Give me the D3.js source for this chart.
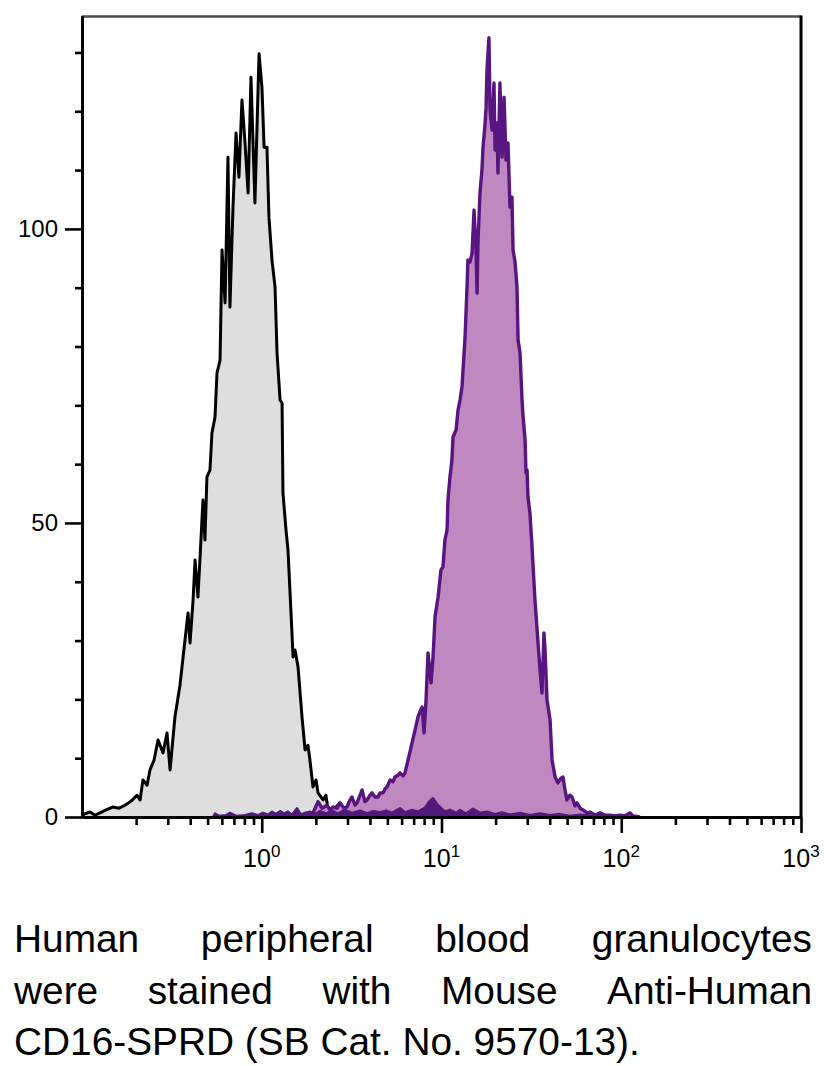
<!DOCTYPE html>
<html><head><meta charset="utf-8">
<script src="https://cdn.jsdelivr.net/npm/d3@7"></script>
<style>body{margin:0;background:#fff}svg{display:block}</style></head>
<body>
<svg id="c" width="834" height="1066"></svg>
<script>
// [log10(intensity), count]
const controlHist = [
[-1.0,0],[-0.989,0.5],[-0.955,0.85],[-0.928,0.3],[-0.900,0.7],[-0.866,1.2],[-0.828,1.7],[-0.794,1.5],
[-0.761,2.0],[-0.727,2.7],[-0.694,3.7],[-0.677,2.9],[-0.661,6.3],[-0.638,5.4],[-0.622,8.0],[-0.599,9.7],
[-0.577,13.1],[-0.549,10.9],[-0.527,14.3],[-0.510,8.0],[-0.483,17.0],[-0.455,22.4],[-0.427,30.1],[-0.410,34.7],
[-0.399,29.6],[-0.382,36.9],[-0.371,43.7],[-0.355,37.4],[-0.344,43.7],[-0.327,53.9],[-0.316,47.1],[-0.305,57.8],
[-0.288,59.0],[-0.277,65.3],[-0.260,68.0],[-0.249,75.5],[-0.232,77.7],[-0.221,96.4],[-0.204,87.4],[-0.188,112.2],
[-0.177,86.7],[-0.160,103.7],[-0.143,116.3],[-0.127,108.8],[-0.110,121.9],[-0.093,114.6],[-0.076,106.1],[-0.060,125.8],
[-0.038,104.4],[-0.015,129.8],[0.001,124.1],[0.013,113.9],[0.029,113.9],[0.040,102.0],[0.057,94.7],[0.074,90.1],
[0.085,78.9],[0.102,70.9],[0.113,70.4],[0.118,55.1],[0.135,48.8],[0.146,45.4],[0.168,31.3],[0.174,27.2],
[0.185,28.4],[0.202,25.5],[0.224,17.0],[0.241,11.4],[0.257,12.2],[0.268,9.7],[0.285,5.1],[0.302,6.3],
[0.313,4.1],[0.341,2.9],[0.357,3.7],[0.369,1.2],[0.391,0.85],[0.407,1.5],[0.435,2.4],[0.463,1.0],
[0.502,1.5],[0.547,0.8],[0.586,2.5],[0.613,0.5],[0.658,0]
];
const stainedHist = [
[0.230,0],[0.241,0.3],[0.285,0.7],[0.313,2.6],[0.335,1.5],[0.363,2.0],[0.380,1.2],[0.396,1.7],[0.419,1.5],
[0.435,2.4],[0.458,1.5],[0.474,1.7],[0.491,2.9],[0.502,3.4],[0.519,2.0],[0.530,2.4],[0.547,3.7],[0.558,4.6],
[0.574,2.6],[0.586,2.9],[0.602,3.7],[0.613,4.1],[0.630,3.4],[0.647,3.4],[0.658,4.1],[0.675,4.1],[0.686,4.8],
[0.697,5.1],[0.714,6.3],[0.730,6.0],[0.741,6.8],[0.758,7.1],[0.769,7.5],[0.786,7.0],[0.797,7.5],[0.814,9.7],
[0.825,11.1],[0.836,12.6],[0.853,14.8],[0.869,17.0],[0.880,17.9],[0.892,18.7],[0.903,14.3],[0.914,19.9],
[0.925,27.9],[0.942,22.8],[0.953,27.2],[0.964,34.0],[0.981,37.4],[0.997,42.0],[1.008,42.5],[1.019,47.1],
[1.031,48.8],[1.036,53.9],[1.047,57.8],[1.058,60.7],[1.064,64.6],[1.081,65.8],[1.092,69.2],[1.103,70.9],
[1.114,73.1],[1.131,81.6],[1.142,90.1],[1.147,94.7],[1.159,94.4],[1.170,95.9],[1.181,103.2],[1.192,96.4],
[1.198,89.1],[1.203,97.6],[1.214,106.1],[1.225,110.0],[1.231,113.8],[1.242,117.7],[1.248,120.7],[1.253,127.0],
[1.264,132.5],[1.270,120.2],[1.281,116.8],[1.292,124.8],[1.298,113.4],[1.309,118.0],[1.314,109.5],[1.325,124.8],
[1.337,112.2],[1.348,122.4],[1.359,111.7],[1.370,114.6],[1.381,103.7],[1.392,105.4],[1.398,96.4],[1.409,94.4],
[1.420,90.1],[1.426,81.1],[1.437,78.9],[1.448,70.9],[1.453,68.4],[1.465,64.1],[1.470,58.5],[1.476,59.0],
[1.481,54.4],[1.492,51.7],[1.503,46.3],[1.520,36.9],[1.537,29.6],[1.548,25.0],[1.559,21.1],[1.570,31.3],
[1.576,28.4],[1.587,19.9],[1.604,16.5],[1.615,9.7],[1.632,6.8],[1.648,5.8],[1.665,6.6],[1.676,6.8],
[1.687,4.6],[1.698,2.9],[1.715,3.7],[1.726,3.4],[1.743,1.9],[1.754,2.4],[1.771,1.5],[1.787,1.2],
[1.810,0.7],[1.826,0.85],[1.854,0.3],[1.882,0.7],[1.910,0.3],[1.937,0.3],[1.965,0.2],[1.993,0.3],
[2.021,0.2],[2.049,0.7],[2.065,0.2],[2.104,0]
];
const stainedLow = [
[-0.271,0],[-0.260,0.6],[-0.238,0.2],[-0.199,0.3],[-0.177,0.7],[-0.143,0.2],[-0.093,0.3],[-0.054,0.6],
[-0.021,0.3],[0.007,0.7],[0.035,0.4],[0.057,0.9],[0.079,0.5],[0.102,1.0],[0.124,0.6],[0.146,0.9],
[0.168,0.4],[0.196,1.5],[0.218,0.4],[0.241,0.7],[0.268,0.9],[0.296,0.5],[0.324,1.0],[0.357,0.6],
[0.391,1.1],[0.424,0.6],[0.463,1.2],[0.502,0.7],[0.547,1.1],[0.586,0.6],[0.619,1.0],[0.658,0.8],
[0.691,1.1],[0.725,0.7],[0.769,1.5],[0.797,0.8],[0.836,1.2],[0.869,0.9],[0.908,1.6],[0.931,2.6],
[0.953,3.2],[0.975,2.2],[0.992,1.7],[1.019,0.9],[1.047,1.2],[1.081,0.7],[1.103,1.2],[1.136,0.6],
[1.175,1.4],[1.214,0.7],[1.253,0.9],[1.298,0.5],[1.337,0.8],[1.381,0.4],[1.437,0.7],[1.492,0.3],
[1.548,0.6],[1.604,0.3],[1.659,0.5],[1.715,0.2],[1.771,0.4],[1.854,0.2],[1.937,0.3],[2.021,0.1],[2.104,0]
];
const yMajorTicks = [0, 50, 100];
const yMinorTicks = [10, 20, 30, 40, 60, 70, 80, 90, 110, 120, 130];
const xMajorExponents = [0, 1, 2, 3];
const captionLines = [
  "Human peripheral blood granulocytes",
  "were stained with Mouse Anti-Human",
  "CD16-SPRD (SB Cat. No. 9570-13)."
];

const svg = d3.select("#c");
svg.append("rect").attr("width",834).attr("height",1066).attr("fill","#fff");

const x = d3.scaleLog().domain([0.1, 1000]).range([82, 801]);
const y = d3.scaleLinear().domain([0, 136.2]).range([817, 16]);

const area = d3.area().x(d => x(Math.pow(10, d[0]))).y0(y(0)).y1(d => y(d[1]));
const line = d3.line().x(d => x(Math.pow(10, d[0]))).y(d => y(d[1]));

// control (gray)
svg.append("path").datum(controlHist).attr("d", area).attr("fill", "#dedede");
svg.append("path").datum(controlHist).attr("d", line).attr("fill","none")
  .attr("stroke","#000").attr("stroke-width",3).attr("stroke-linejoin","round");
// stained (purple)
svg.append("path").datum(stainedHist).attr("d", area).attr("fill", "#c088c0");
svg.append("path").datum(stainedHist).attr("d", line).attr("fill","none")
  .attr("stroke","#58157f").attr("stroke-width",3.4).attr("stroke-linejoin","round");
// low-level dark trace
svg.append("path").datum(stainedLow).attr("d", area).attr("fill", "#4f1a7c");
svg.append("path").datum(stainedLow).attr("d", line).attr("fill","none")
  .attr("stroke","#4f1a7c").attr("stroke-width",2.4).attr("stroke-linejoin","round");

// frame top and right
svg.append("line").attr("x1",82).attr("x2",801).attr("y1",16.5).attr("y2",16.5)
  .attr("stroke","#4a4a4a").attr("stroke-width",2.5);
svg.append("line").attr("x1",801).attr("x2",801).attr("y1",15.5).attr("y2",817)
  .attr("stroke","#000").attr("stroke-width",3);

// Y axis
const yMinor = svg.append("g").attr("transform","translate(82,0)")
  .call(d3.axisLeft(y).tickValues(yMinorTicks).tickSize(7).tickSizeOuter(0).tickFormat(""));
const yMajor = svg.append("g").attr("transform","translate(82,0)")
  .call(d3.axisLeft(y).tickValues(yMajorTicks).tickSize(17).tickSizeOuter(0).tickPadding(7));
[yMinor, yMajor].forEach(g => {
  g.select(".domain").attr("stroke","#000").attr("stroke-width",3);
  g.selectAll(".tick line").attr("stroke","#000").attr("stroke-width",2.6);
});
yMajor.selectAll(".tick text").attr("font-family","'Liberation Sans', Arial, sans-serif")
  .attr("font-size",24).attr("fill","#000");

// X axis
const xTicksAll = x.ticks();
const isMajor = v => Math.abs(Math.log10(v) - Math.round(Math.log10(v))) < 1e-9;
const xMinorVals = xTicksAll.filter(v => !isMajor(v));
const xMajorVals = xMajorExponents.map(e => Math.pow(10, e));
const xMinor = svg.append("g").attr("transform","translate(0,817)")
  .call(d3.axisBottom(x).tickValues(xMinorVals).tickSize(8).tickSizeOuter(0).tickFormat(""));
const xMajor = svg.append("g").attr("transform","translate(0,817)")
  .call(d3.axisBottom(x).tickValues(xMajorVals).tickSize(16).tickSizeOuter(0).tickFormat(""));
[xMinor, xMajor].forEach(g => {
  g.select(".domain").attr("stroke","#000").attr("stroke-width",3);
  g.selectAll(".tick line").attr("stroke","#000").attr("stroke-width",2.6);
});
const xl = svg.append("g").selectAll("text").data(xMajorExponents).join("text")
  .attr("x", e => x(Math.pow(10, e)) ).attr("y", 867)
  .attr("text-anchor","middle").attr("font-family","'Liberation Sans', Arial, sans-serif")
  .attr("font-size",25).attr("fill","#000");
xl.append("tspan").text("10");
xl.append("tspan").attr("font-size",17).attr("dy",-10).text(e => String(e));

// Caption (justified): font size chosen so that the last line spans its reference width
const capFont = "'Liberation Sans Narrow', 'Liberation Sans', Arial, sans-serif";
const capLeft = 14, capRight = 812;
const capBase = [952, 1004, 1055];
const line3Width = 626;
const probe = svg.append("text").attr("font-family",capFont).attr("font-size",44).text(captionLines[2]);
let capSize = 44 * line3Width / probe.node().getComputedTextLength();
capSize = Math.min(capSize, 46);
probe.remove();
captionLines.forEach((ln, i) => {
  if (i === captionLines.length - 1) {
    svg.append("text").attr("x",capLeft).attr("y",capBase[i])
      .attr("font-family",capFont).attr("font-size",capSize).attr("fill","#000").text(ln);
    return;
  }
  const words = ln.split(" ");
  const nodes = words.map(w => svg.append("text").attr("font-family",capFont)
    .attr("font-size",capSize).attr("fill","#000").text(w));
  const widths = nodes.map(n => n.node().getComputedTextLength());
  const total = d3.sum(widths);
  const gap = (capRight - capLeft - total) / (words.length - 1);
  let cx = capLeft;
  nodes.forEach((n, k) => {
    n.attr("x", cx).attr("y", capBase[i]);
    cx += widths[k] + gap;
  });
});
</script>
</body></html>
